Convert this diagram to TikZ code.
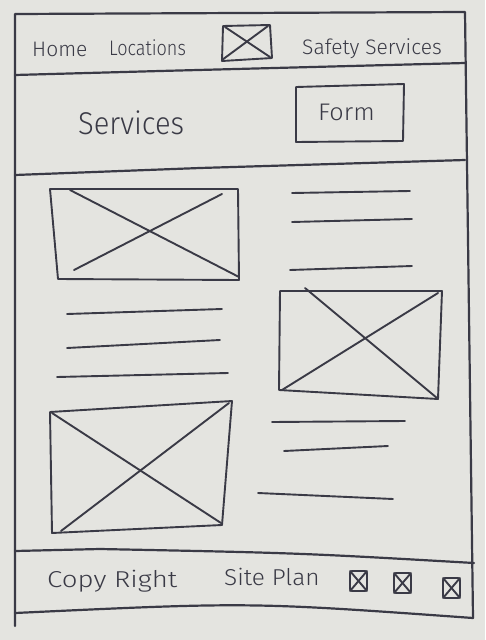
\documentclass[tikz,border=0pt]{standalone}
\usepackage{fontspec}
\setmainfont{Fira Sans Light}
\definecolor{paper}{HTML}{E4E4E0}
\definecolor{ink}{HTML}{3A3A46}
\tikzset{
  pen/.style={draw=ink, line width=2.2pt, line cap=round, line join=round},
  thin pen/.style={draw=ink, line width=1.9pt, line cap=round, line join=round},
  label/.style={text=ink, inner sep=0pt, anchor=base west},
}
\begin{document}
\begin{tikzpicture}[x=1pt,y=-1pt]
  \useasboundingbox (0,0) rectangle (485,640);
  \fill[paper] (0,0) rectangle (485,640);

  % page frame
  \draw[pen] (15,626) -- (15,14) -- (465,12) -- (473,618);
  % header / banner / footer separators
  \draw[pen] (15,75) -- (160,71) -- (465,63);
  \draw[pen] (15,175) -- (200,168) -- (465,160);
  \draw[pen] (15,551) -- (100,549) .. controls (300,553) .. (474,563);
  \draw[pen] (15,613) .. controls (250,602) .. (473,618);

  % navigation bar
  \node[label, font=\fontsize{21}{21}\selectfont] (home) at (32,56) {Home};
  \node[label, font=\fontsize{21}{21}\selectfont] (loc) at (109,55) {\scalebox{0.86}[1]{Locations}};
  \node[label, font=\fontsize{21}{21}\selectfont] (safety) at (302,54) {Safety Services};
  \draw[thin pen] (223,26) -- (270,25) -- (272,58) -- (222,61) -- cycle;
  \draw[thin pen] (225,27) -- (270,57);
  \draw[thin pen] (222,60) -- (268,26);

  % banner
  \node[label, font=\fontsize{30}{30}\selectfont] (title) at (78,134) {\scalebox{0.97}[1.05]{Services}};
  \draw[thin pen] (296,87) -- (404,84) -- (403,141) -- (296,142) -- cycle;
  \node[label, font=\fontsize{24}{24}\selectfont] (form) at (318,120) {\scalebox{1.05}[1]{Form}};

  % image placeholder, top left
  \draw[thin pen] (50,189) -- (238,189) -- (239,280) -- (58,279) -- cycle;
  \draw[thin pen] (70,190) -- (239,277);
  \draw[thin pen] (74,270) -- (222,194);
  % text lines, top right
  \draw[thin pen] (292,193) -- (410,191);
  \draw[thin pen] (292,222) -- (412,219);
  \draw[thin pen] (290,270) -- (412,266);

  % text lines, middle left
  \draw[thin pen] (67,314) -- (222,309);
  \draw[thin pen] (67,348) -- (220,340);
  \draw[thin pen] (57,377) -- (228,373);
  % image placeholder, middle right
  \draw[thin pen] (280,291) -- (442,291) -- (438,399) -- (279,390) -- cycle;
  \draw[thin pen] (305,288) -- (437,398);
  \draw[thin pen] (282,390) -- (438,293);

  % image placeholder, bottom left
  \draw[thin pen] (50,412) -- (232,401) -- (222,525) -- (52,533) -- cycle;
  \draw[thin pen] (52,413) -- (221,523);
  \draw[thin pen] (61,531) -- (229,403);
  % text lines, bottom right
  \draw[thin pen] (272,422) -- (405,421);
  \draw[thin pen] (284,451) -- (388,446);
  \draw[thin pen] (258,493) -- (393,499);

  % footer
  \node[label, font=\fontsize{23}{23}\selectfont] (copy) at (47,587) {\scalebox{1.2}[1]{Copy Right}};
  \node[label, font=\fontsize{23}{23}\selectfont] (plan) at (224,585) {\scalebox{1.06}[1]{Site Plan}};
  \foreach \n/\x/\y in {ia/350/571, ib/394/573, ic/443/578} {
    \draw[thin pen, rounded corners=2pt] (\x,\y) rectangle ++(17,20);
    \draw[thin pen] (\x,\y) -- ++(17,20);
    \draw[thin pen] (\x+17,\y) -- ++(-17,20);
  }
\end{tikzpicture}
\end{document}
